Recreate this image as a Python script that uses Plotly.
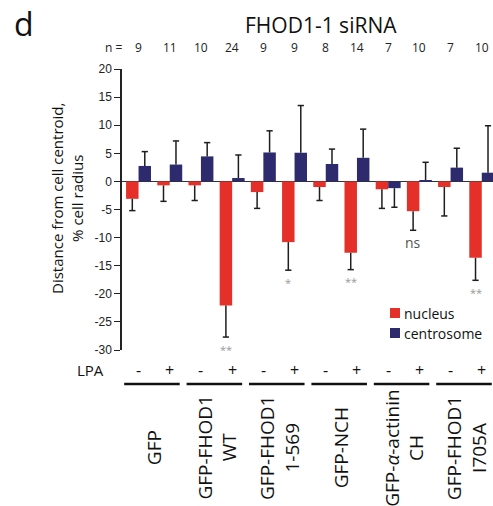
import plotly.graph_objects as go

# ---------------- data ----------------
constructs = ["GFP", "GFP-FHOD1<br>WT", "GFP-FHOD1<br>1-569", "GFP-NCH",
              "GFP-<i>α</i>-actinin<br>CH", "GFP-FHOD1<br>I705A"]
lpa = ["-", "+", "-", "+", "-", "+", "-", "+", "-", "+", "-", "+"]
n_values = [9, 11, 10, 24, 9, 9, 8, 14, 7, 10, 7, 10]
nucleus = [-3.1, -0.7, -0.7, -22.1, -1.9, -10.8, -1.0, -12.7, -1.4, -5.3, -1.0, -13.6]
nucleus_err = [2.1, 2.85, 2.7, 5.6, 2.9, 5.0, 2.4, 3.0, 3.4, 3.4, 5.15, 4.0]
centrosome = [2.75, 3.0, 4.45, 0.6, 5.15, 5.1, 3.1, 4.2, -1.2, 0.25, 2.45, 1.55]
centrosome_err = [2.55, 4.2, 2.45, 4.1, 3.85, 8.4, 2.65, 5.1, 3.4, 3.15, 3.45, 8.35]
significance = ["", "", "", "**", "", "*", "", "**", "", "ns", "", "**"]
y_ticks = [20, 15, 10, 5, 0, -5, -10, -15, -20, -25, -30]

RED = "#e5302a"
NAVY = "#2d2a6e"
ERR = "#1e1e1e"

# ---------------- layout geometry ----------------
W, H = 493, 506
L, R, T, B = 122, 0, 69, 156
PW, PH = W - L - R, H - T - B


def xp(px):
    return (px - L) / PW


def yp(py):
    return (T + PH - py) / PH


idx = list(range(len(n_values)))
OFF = 0.2
CAP = 0.1

fig = go.Figure()
fig.add_trace(go.Bar(x=idx, y=nucleus, name="nucleus", marker_color=RED,
                     marker_line_width=0, showlegend=False))
fig.add_trace(go.Bar(x=idx, y=centrosome, name="centrosome", marker_color=NAVY,
                     marker_line_width=0, showlegend=False))


def err_path(vals, errs, off):
    xs, ys = [], []
    for i, (v, e) in enumerate(zip(vals, errs)):
        s = 1 if v >= 0 else -1
        end = v + s * e
        x = i + off
        xs += [x, x, None, x - CAP, x + CAP, None]
        ys += [v, end, None, end, end, None]
    return xs, ys


for vals, errs, off in [(nucleus, nucleus_err, -OFF), (centrosome, centrosome_err, OFF)]:
    ex, ey = err_path(vals, errs, off)
    fig.add_trace(go.Scatter(x=ex, y=ey, mode="lines", showlegend=False,
                             line=dict(color=ERR, width=1.5), hoverinfo="skip"))

ann = []


def text(x, y, s, size, xref="paper", yref="paper", color="#111", angle=0,
         xanchor="center", yanchor="middle", family="Open Sans", yshift=0):
    ann.append(dict(x=x, y=y, xref=xref, yref=yref, text=s, showarrow=False,
                    xanchor=xanchor, yanchor=yanchor, textangle=angle, align="center",
                    yshift=yshift, font=dict(size=size, family=family, color=color)))


# significance marks
for i, s in enumerate(significance):
    if not s:
        continue
    end = nucleus[i] - nucleus_err[i]
    if s == "ns":
        text(i - OFF, end, s, 14, xref="x", yref="y", color="#555", yshift=-12)
    else:
        text(i - OFF, end, s, 11, xref="x", yref="y", color="#999", yshift=-12)
# n row
text(xp(113), yp(48), "n =", 12, color="#222")
for i, n in enumerate(n_values):
    text(i, yp(48), str(n), 12, xref="x", color="#222")
# LPA row
text(xp(90), yp(370), "LPA", 15)
for i, s in enumerate(lpa):
    text(i, yp(370), s, 16, xref="x")
# construct labels
for k, c in enumerate(constructs):
    text(2 * k + 0.5, yp(448), c, 19, xref="x", angle=-90)
# titles
text(xp(321), yp(25), "FHOD1-1 siRNA", 21)
text(xp(24), yp(23), "d", 32)
text(xp(67), yp(199), "Distance from cell centroid,<br>% cell radius", 15, angle=-90)
# legend labels
for name, cy in [("nucleus", 313), ("centrosome", 333)]:
    text(xp(402), yp(cy), name, 14, xanchor="left")

shapes = []
for col, cy in [(RED, 313), (NAVY, 333)]:
    shapes.append(dict(type="rect", xref="paper", yref="paper",
                       x0=xp(390), x1=xp(400), y0=yp(cy + 5), y1=yp(cy - 5),
                       fillcolor=col, line=dict(width=0)))
for k in range(len(constructs)):
    shapes.append(dict(type="line", xref="x", yref="paper",
                       x0=2 * k - 0.46, x1=2 * k + 1.32, y0=yp(384), y1=yp(384),
                       line=dict(color="#111", width=2.5)))

fig.update_layout(
    width=W, height=H,
    margin=dict(l=L, r=R, t=T, b=B, pad=0),
    paper_bgcolor="white", plot_bgcolor="white",
    barmode="group", bargap=0.2, bargroupgap=0,
    annotations=ann, shapes=shapes,
    xaxis=dict(range=[-0.53, 11.36], showticklabels=False, showgrid=False,
               zeroline=False, showline=False, ticks=""),
    yaxis=dict(range=[-30, 20], tickvals=y_ticks, ticktext=[str(t) for t in y_ticks],
               showgrid=False, zeroline=True, zerolinecolor="#333", zerolinewidth=1.2,
               showline=True, linecolor="#222", linewidth=1.5,
               ticks="outside", ticklen=6, tickwidth=1.2, tickcolor="#222",
               tickfont=dict(size=12, family="Liberation Sans", color="#222")),
    showlegend=False,
)

fig.write_html("out.html", config={"displayModeBar": False},
               post_script="document.body.style.margin='0';"
                           "document.body.style.overflow='hidden';")
